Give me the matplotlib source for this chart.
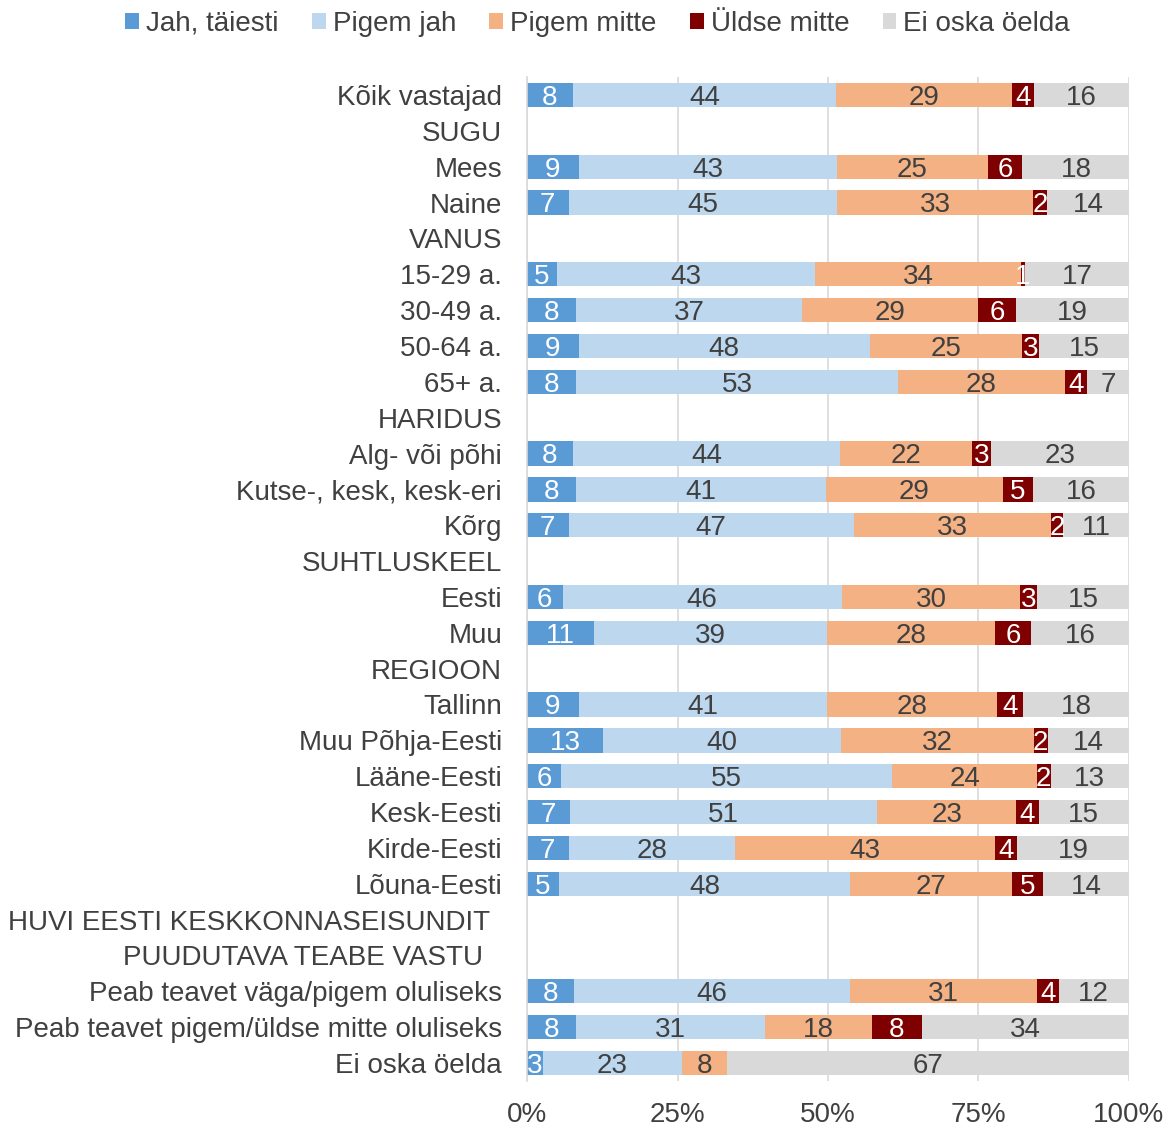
import matplotlib.pyplot as plt
import numpy as np
from matplotlib.transforms import ScaledTranslation

plt.rcParams['font.family'] = ['Liberation Sans', 'DejaVu Sans']

rows = ["Kõik vastajad", "SUGU", "Mees", "Naine", "VANUS", "15-29 a.", "30-49 a.",
        "50-64 a.", "65+ a.", "HARIDUS", "Alg- või põhi", "Kutse-, kesk, kesk-eri",
        "Kõrg", "SUHTLUSKEEL", "Eesti", "Muu", "REGIOON", "Tallinn", "Muu Põhja-Eesti",
        "Lääne-Eesti", "Kesk-Eesti", "Kirde-Eesti", "Lõuna-Eesti",
        "HUVI EESTI KESKKONNASEISUNDIT", "PUUDUTAVA TEABE VASTU",
        "Peab teavet väga/pigem oluliseks", "Peab teavet pigem/üldse mitte oluliseks",
        "Ei oska öelda"]

# None = header row without bar
jah = [7.6, None, 8.6, 6.9, None, 5.0, 8.2, 8.6, 8.2, None, 7.6, 8.2, 6.9, None,
       5.9, 11.1, None, 8.6, 12.6, 5.6, 7.2, 6.9, 5.3, None, None, 7.8, 8.2, 2.6]
pigem_jah = [43.8, None, 42.9, 44.6, None, 42.9, 37.4, 48.3, 53.4, None, 44.4, 41.4, 47.4, None,
             46.4, 38.7, None, 41.2, 39.6, 55.1, 50.9, 27.6, 48.4, None, None, 45.9, 31.4, 23.1]
pigem_mitte = [29.2, None, 25.1, 32.6, None, 34.1, 29.4, 25.4, 27.8, None, 22.0, 29.4, 32.7, None,
               29.6, 28.0, None, 28.3, 32.0, 24.0, 23.2, 43.2, 26.9, None, None, 31.0, 17.7, 7.6]
yldse_mitte = [3.7, None, 5.7, 2.3, None, 0.8, 6.2, 2.8, 3.6, None, 3.1, 5.1, 2.1, None,
               2.8, 6.0, None, 4.3, 2.3, 2.3, 3.7, 3.7, 5.1, None, None, 3.6, 8.3, 0]
ei_oska = [15.7, None, 17.8, 13.6, None, 17.2, 18.7, 15.0, 7.1, None, 22.9, 15.9, 10.9, None,
           15.3, 16.2, None, 17.6, 13.6, 13.0, 15.0, 18.6, 14.3, None, None, 11.7, 34.3, 66.7]

series = ["Jah, täiesti", "Pigem jah", "Pigem mitte", "Üldse mitte", "Ei oska öelda"]
colors = ["#5B9BD5", "#BDD7EE", "#F4B183", "#7F0000", "#D9D9D9"]
text_colors = ["white", "#404040", "#404040", "white", "#404040"]
dark = "#404040"
fs = 20

fig = plt.figure(figsize=(11.67, 11.29), dpi=100)
ax = fig.add_axes([0.4516, 0.0426, 0.5158, 0.8891])

y = np.arange(len(rows))
left = np.zeros(len(rows))
for name, data, c, tc in zip(series, [jah, pigem_jah, pigem_mitte, yldse_mitte, ei_oska],
                             colors, text_colors):
    vals = np.array([0 if v is None else v for v in data], dtype=float)
    ax.barh(y, vals, left=left, height=0.68, color=c, label=name, zorder=2)
    for i, v in enumerate(vals):
        if v > 0:
            ax.text(left[i] + v / 2, y[i] + 0.08, f"{round(v)}", ha="center", va="center",
                    color=tc, fontsize=fs, zorder=3)
    left += vals

ax.set_xlim(0, 100)
ax.set_ylim(len(rows) - 0.5, -0.5)
ax.set_xticks([0, 25, 50, 75, 100], ["0%", "25%", "50%", "75%", "100%"])
ax.set_yticks(y, rows)
ax.tick_params(axis="y", length=0, pad=18, labelsize=fs, labelcolor=dark)
ax.tick_params(axis="x", length=0, pad=15, labelsize=fs, labelcolor=dark)
ax.grid(axis="x", color="#D9D9D9", linewidth=1.2, zorder=0)
for s in ["top", "right", "bottom"]:
    ax.spines[s].set_visible(False)
ax.spines["left"].set_color("#D9D9D9")
ax.spines["left"].set_linewidth(1.2)

# the two-line header sits a bit further left
labels = ax.get_yticklabels()
for idx, dx in [(23, -12), (24, -19)]:
    labels[idx].set_transform(labels[idx].get_transform() +
                              ScaledTranslation(dx / 100, 0, fig.dpi_scale_trans))

fig.legend(loc="center", bbox_to_anchor=(0.512, 0.979), ncol=5, frameon=False,
           fontsize=fs, handlelength=0.5, handleheight=0.5, handletextpad=0.25,
           columnspacing=1.2, labelcolor=dark)

fig.savefig("out.png", dpi=100)
